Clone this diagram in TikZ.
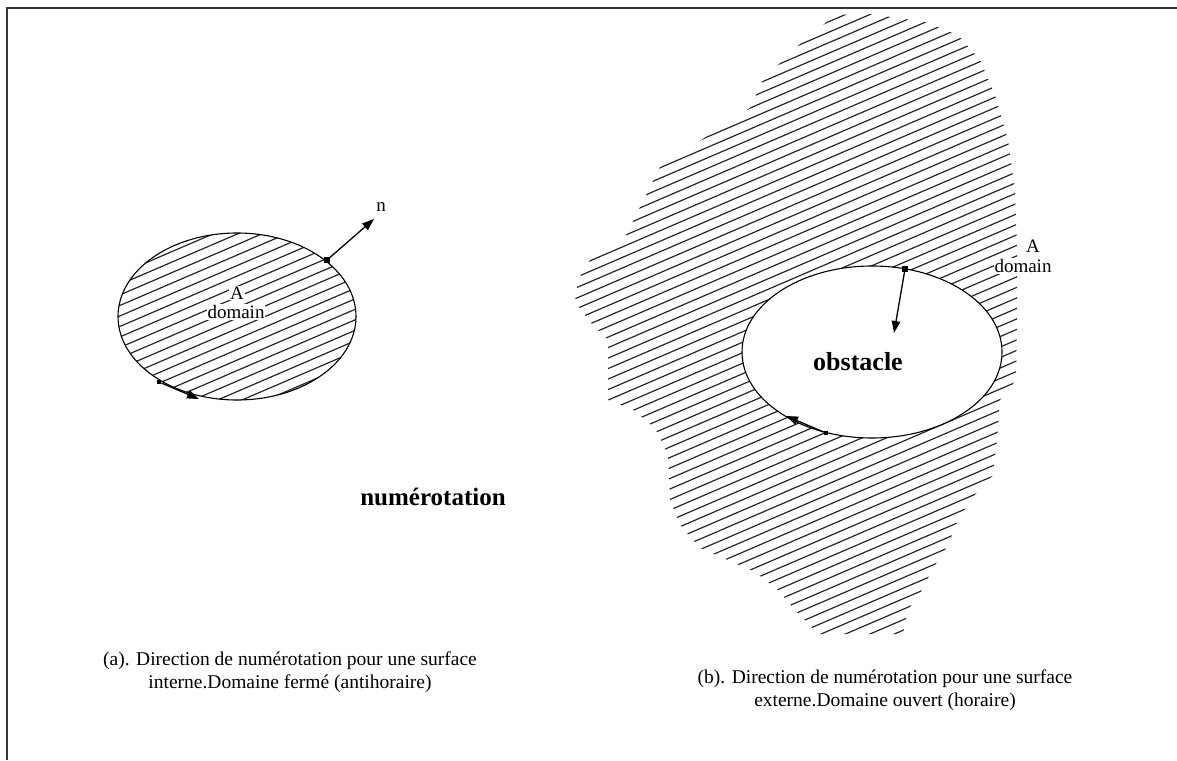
\documentclass[tikz,border=0pt]{standalone}
\usepackage{fontspec}
\setmainfont{Liberation Serif}
\usetikzlibrary{arrows.meta, positioning}

\begin{document}
\begin{tikzpicture}[x=1pt, y=-1pt,
        hatch/.style={black!85, line width=1.2pt},
        bord/.style={black, line width=1.1pt},
        dot/.style={rectangle, fill=black, inner sep=0pt, minimum size=5.5pt},
        vec/.style={-{Triangle[length=12pt, width=8.5pt]}, line width=1.3pt},
        lbl/.style={fill=white, inner sep=1pt, font=\fontsize{19}{19}\selectfont},
        capt/.style={align=center, font=\fontsize{19.5}{23}\selectfont},
        big/.style={font=\fontsize{25}{25}\selectfont\bfseries}
    ]
    \useasboundingbox (0,0) rectangle (1177,760);
    \draw[gray!40!black, line width=2.5pt] (1177,8) -- (7,8) -- (7,760);

    % (a) closed domain
    \begin{scope}
        \clip (237,316.5) ellipse [x radius=119pt, y radius=83.5pt];
        \foreach \c in {0,10.5,...,1300}
            \draw[hatch] (0,\c) -- (1177,\c-506);
    \end{scope}
    \draw[bord] (237,316.5) ellipse [x radius=119pt, y radius=83.5pt];
    \node[lbl] (la) at (237,293) {A};
    \node[lbl] (ld) at (236,312) {domain};
    \node[dot] (pn) at (327,260) {};
    \coordinate (tn) at (374,219);
    \node[lbl, fill=none] (nl) at (381,207) {n};
    \draw[vec] (pn) -- (tn);
    \node[dot, minimum size=4.5pt] (pa) at (159,382) {};
    \coordinate (ta) at (199,399);
    \draw[vec] (pa) -- (ta);

    % (b) open domain
    \begin{scope}
        \clip (835,15) -- (870,14) -- (925,22) -- (958,35) -- (980,60) -- (995,95)
            -- (1008,140) -- (1015,190) -- (1017,250) -- (1017,320) -- (1016,380)
            -- (1000,400) -- (997,440) -- (993,475) -- (972,498) -- (958,520)
            -- (948,545) -- (932,570) -- (922,590) -- (908,610) -- (903,634)
            -- (818,634) -- (795,610) -- (778,590) -- (755,572) -- (700,548)
            -- (680,525) -- (670,500) -- (668,455) -- (655,428) -- (633,410)
            -- (608,400) -- (608,340) -- (590,322) -- (575,302) -- (578,280)
            -- (593,255) -- (625,237) -- (642,203) -- (660,167) -- (750,108)
            -- (763,80) -- (793,50) -- cycle;
        \foreach \c in {0,10.5,...,1300}
            \draw[hatch] (0,\c) -- (1177,\c-506);
    \end{scope}
    \fill[white] (872,352) ellipse [x radius=130pt, y radius=86pt];
    \draw[bord] (872,352) ellipse [x radius=130pt, y radius=86pt];
    \node[lbl] (lb) at (1033,246) {A};
    \node[lbl] (ldb) at (1023,266) {domain};
    \node[big, font=\fontsize{26}{26}\selectfont\bfseries] (obs) at (858,362) {obstacle};
    \node[dot] (po) at (905,269) {};
    \coordinate (to) at (894,333);
    \draw[vec] (po) -- (to);
    \node[dot, minimum size=4.5pt] (pb) at (826,433) {};
    \coordinate (tb) at (786,416);
    \draw[vec] (pb) -- (tb);

    \node[big] (num) at (433,497) {numérotation};

    % captions
    \node[capt] (ca) at (290,672) {(a). Direction de numérotation pour une surface\\interne.Domaine fermé (antihoraire)};
    \node[capt] (cb) at (885,690) {(b). Direction de numérotation pour une surface\\externe.Domaine ouvert (horaire)};
\end{tikzpicture}
\end{document}
